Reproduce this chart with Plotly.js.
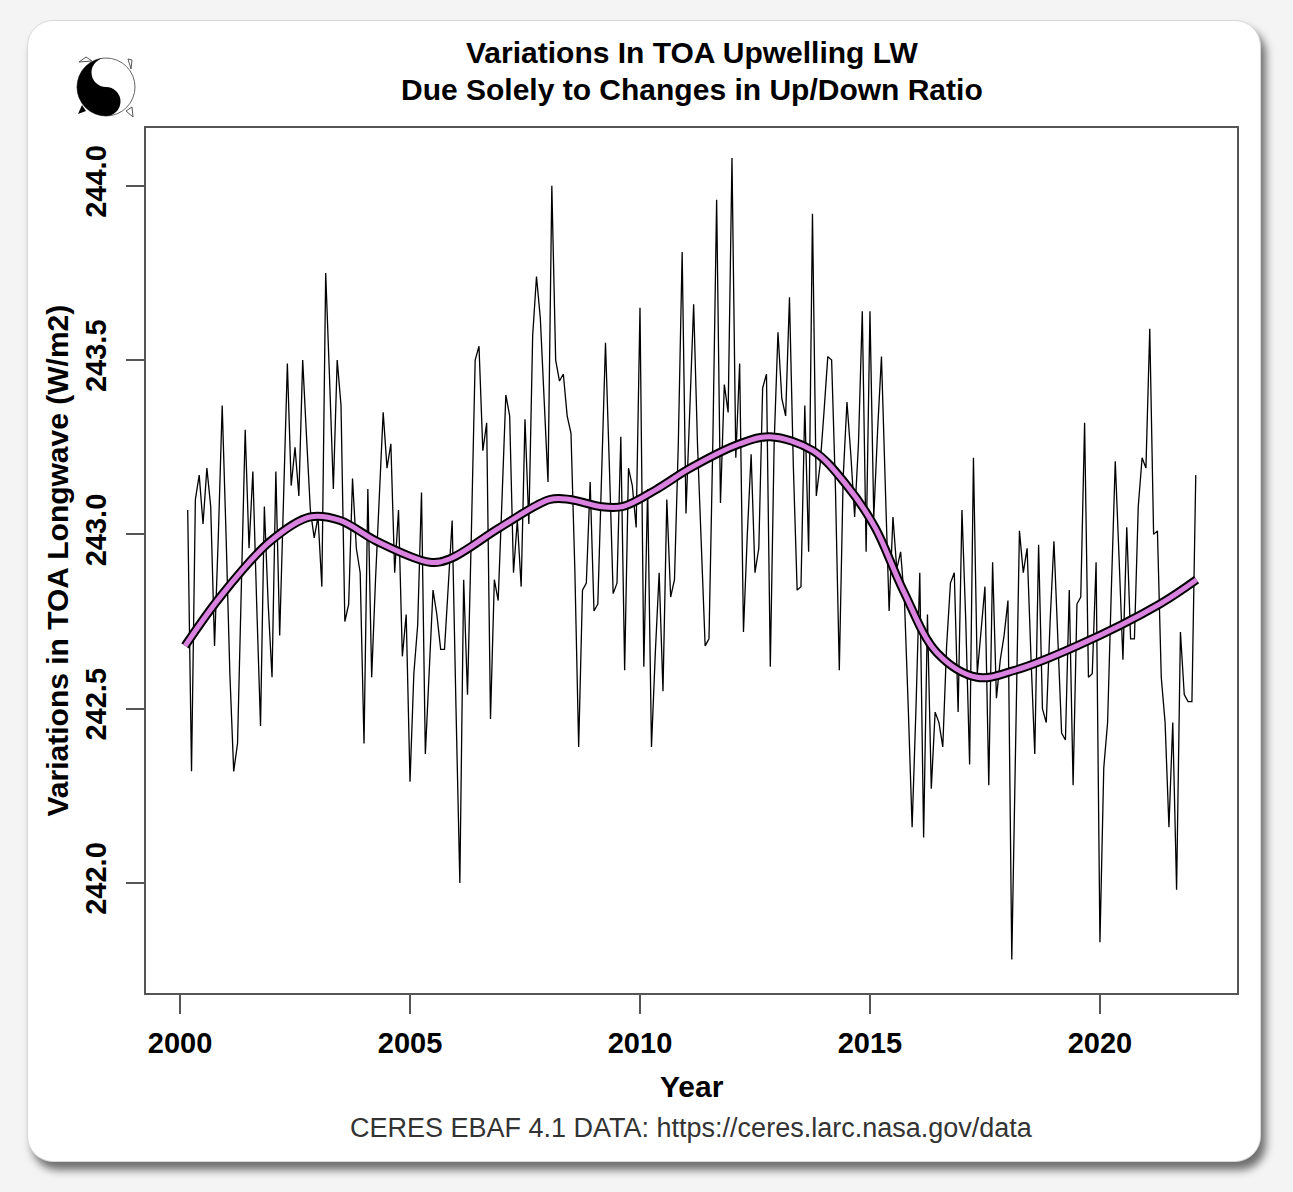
<!DOCTYPE html>
<html>
<head>
<meta charset="utf-8">
<script src="https://cdn.plot.ly/plotly-3.0.1.min.js"></script>
<style>
  html, body { margin: 0; padding: 0; background: #f4f4f4; }
  #card {
    position: absolute; left: 27px; top: 20px; width: 1232px; height: 1140px;
    background: #ffffff; border-radius: 26px; border: 1px solid #d8d8d8;
    box-shadow: 5px 8px 9px rgba(0,0,0,0.55);
  }
  #chart { position: absolute; left: 0; top: 0; width: 1293px; height: 1192px; }
  #logo { position: absolute; left: 68px; top: 52px; }
</style>
</head>
<body>
<div id="card"></div>
<div id="chart"></div>
<svg id="logo" width="76" height="70" viewBox="-38 -35 76 70">
  <path d="M -27,-25 L -20,-30 L -14,-26 Z" fill="#fff" stroke="#555" stroke-width="1"/>
  <path d="M 22,-28 L 26,-27 L 25,-18 Z" fill="#fff" stroke="#555" stroke-width="1"/>
  <path d="M -28,27 L -20,24 L -24,18 Z" fill="#000"/>
  <path d="M 27,30 L 20,24 L 26,20 Z" fill="#fff" stroke="#555" stroke-width="1"/>
  <circle cx="0" cy="0" r="29" fill="#fff" stroke="#666" stroke-width="1"/>
  <path d="M 0,-29 A 29 29 0 0 0 0,29 A 14.5 14.5 0 0 0 0,0 A 14.5 14.5 0 0 1 0,-29 Z" fill="#000"/>
  <circle cx="0" cy="-14.5" r="3" fill="#fff"/>
  <circle cx="0" cy="14.5" r="3" fill="#000"/>
</svg>
<script>
// Monthly series: March 2000 .. February 2022 (W/m2)
const startYear = 2000;
const startMonth = 3;
const lwValues = [
  243.07,242.32,243.10,243.17,243.03,243.19,243.08,242.68,243.00,243.37,
  243.00,242.60,242.32,242.40,242.85,243.30,242.96,243.18,242.80,242.45,
  243.08,242.80,242.59,243.18,242.71,243.10,243.49,243.14,243.25,243.11,
  243.50,243.28,243.07,242.99,243.05,242.85,243.75,243.45,243.13,243.50,
  243.37,242.75,242.80,243.16,242.96,242.89,242.40,243.13,242.59,242.87,
  243.10,243.35,243.19,243.26,242.89,243.07,242.65,242.77,242.29,242.60,
  242.74,243.12,242.37,242.60,242.84,242.77,242.67,242.67,242.85,243.04,
  242.50,242.00,242.87,242.54,243.00,243.50,243.54,243.24,243.32,242.47,
  242.87,242.81,243.10,243.40,243.34,242.89,243.04,242.85,243.33,243.03,
  243.57,243.74,243.62,243.40,243.15,244.00,243.50,243.44,243.46,243.34,
  243.29,242.90,242.39,242.84,242.86,243.15,242.78,242.80,243.20,243.55,
  243.20,242.83,242.86,243.28,242.61,243.19,243.14,243.02,243.65,242.62,
  243.13,242.39,242.66,242.89,242.55,243.10,242.82,242.87,243.26,243.81,
  243.06,243.35,243.66,243.26,242.95,242.68,242.70,243.26,243.96,243.09,
  243.43,243.35,244.08,243.22,243.49,242.72,243.00,243.23,242.89,242.96,
  243.42,243.46,242.62,243.26,243.58,243.39,243.34,243.68,243.20,242.84,
  242.85,243.37,242.95,243.92,243.11,243.20,243.35,243.51,243.50,243.13,
  242.61,243.16,243.38,243.23,243.05,243.26,243.64,242.95,243.64,243.05,
  243.30,243.51,243.14,242.78,243.05,242.90,242.95,242.81,242.50,242.16,
  242.50,242.89,242.13,242.77,242.27,242.49,242.46,242.39,242.68,242.86,
  242.89,242.49,243.07,242.75,242.34,243.22,242.60,242.73,242.85,242.28,
  242.92,242.53,242.64,242.71,242.81,241.78,242.40,243.01,242.89,242.96,
  242.65,242.37,242.97,242.50,242.46,242.75,242.98,242.68,242.43,242.41,
  242.84,242.28,242.80,242.82,243.32,242.59,242.60,242.92,241.83,242.33,
  242.46,242.85,243.21,242.93,242.64,243.02,242.70,242.70,243.08,243.22,
  243.19,243.59,243.00,243.01,242.59,242.46,242.16,242.46,241.98,242.72,
  242.54,242.52,242.52,243.17
];

// Smoothed (loess-style) curve
const smoothYears = [2000.11,2000.87,2001.96,2002.83,2003.48,2004.28,2005.43,2005.87,2006.96,
  2008.04,2008.48,2009.13,2009.63,2010.37,2011.09,2012.17,2012.83,2013.76,2014.50,2015.11,
  2015.72,2016.46,2017.33,2018.15,2019.50,2021.30,2022.10];
const smoothValues = [242.68,242.82,242.98,243.05,243.04,242.98,242.92,242.93,243.02,
  243.10,243.10,243.08,243.08,243.13,243.19,243.26,243.28,243.24,243.14,243.02,
  242.84,242.66,242.59,242.61,242.68,242.80,242.87];

const xTicks = [2000, 2005, 2010, 2015, 2020];
const yTicks = [242.0, 242.5, 243.0, 243.5, 244.0];
const yTickText = ['242.0', '242.5', '243.0', '243.5', '244.0'];

const monthX = lwValues.map((v, i) => startYear + (startMonth - 1 + i) / 12);

const boldFont = 'Liberation Sans, Arial, Helvetica, sans-serif';

const traces = [
  { x: monthX, y: lwValues, type: 'scatter', mode: 'lines',
    line: { color: '#000000', width: 1.3 }, hoverinfo: 'x+y' },
  { x: smoothYears, y: smoothValues, type: 'scatter', mode: 'lines',
    line: { color: '#000000', width: 9, shape: 'spline', smoothing: 1.0 }, hoverinfo: 'skip' },
  { x: smoothYears, y: smoothValues, type: 'scatter', mode: 'lines',
    line: { color: '#DA82E0', width: 5, shape: 'spline', smoothing: 1.0 }, hoverinfo: 'skip' }
];

const layout = {
  width: 1293, height: 1192,
  paper_bgcolor: 'rgba(0,0,0,0)', plot_bgcolor: '#ffffff',
  margin: { l: 146, r: 56, t: 128, b: 199 },
  showlegend: false,
  font: { family: boldFont, color: '#000' },
  xaxis: {
    range: [1999.26, 2022.98], tickmode: 'array', tickvals: xTicks,
    ticktext: xTicks.map(String),
    showgrid: false, zeroline: false, showline: true, mirror: true,
    linecolor: '#555', linewidth: 2, ticks: 'outside', ticklen: 19, tickwidth: 2, tickcolor: '#555',
    tickfont: { family: boldFont, size: 29, color: '#000', weight: 'bold' },
    ticklabelstandoff: 4
  },
  yaxis: {
    range: [241.684, 244.166], tickmode: 'array', tickvals: yTicks, ticktext: yTickText,
    tickangle: -90,
    showgrid: false, zeroline: false, showline: true, mirror: true,
    linecolor: '#555', linewidth: 2, ticks: 'outside', ticklen: 18, tickwidth: 2, tickcolor: '#555',
    tickfont: { family: boldFont, size: 29, color: '#000', weight: 'bold' },
    ticklabelstandoff: 8
  },
  annotations: [
    { text: '<b>Variations In TOA Upwelling LW</b>', xref: 'paper', yref: 'paper',
      x: 0.5, y: (993 - 52) / 865, xanchor: 'center', yanchor: 'middle', showarrow: false,
      font: { family: boldFont, size: 30, color: '#000' } },
    { text: '<b>Due Solely to Changes in Up/Down Ratio</b>', xref: 'paper', yref: 'paper',
      x: 0.5, y: (993 - 89) / 865, xanchor: 'center', yanchor: 'middle', showarrow: false,
      font: { family: boldFont, size: 30, color: '#000' } },
    { text: '<b>Year</b>', xref: 'paper', yref: 'paper',
      x: 0.5, y: (993 - 1086) / 865, xanchor: 'center', yanchor: 'middle', showarrow: false,
      font: { family: boldFont, size: 30, color: '#000' } },
    { text: 'CERES EBAF 4.1 DATA: https://ceres.larc.nasa.gov/data', xref: 'paper', yref: 'paper',
      x: 0.5, y: (993 - 1128) / 865, xanchor: 'center', yanchor: 'middle', showarrow: false,
      font: { family: boldFont, size: 27, color: '#333' } },
    { text: '<b>Variations in TOA Longwave (W/m2)</b>', xref: 'paper', yref: 'paper',
      x: (57 - 146) / 1091, y: 0.5, xanchor: 'center', yanchor: 'middle', showarrow: false,
      textangle: -90, font: { family: boldFont, size: 30, color: '#000' } }
  ]
};

Plotly.newPlot('chart', traces, layout, { staticPlot: true, displayModeBar: false });
</script>
</body>
</html>
